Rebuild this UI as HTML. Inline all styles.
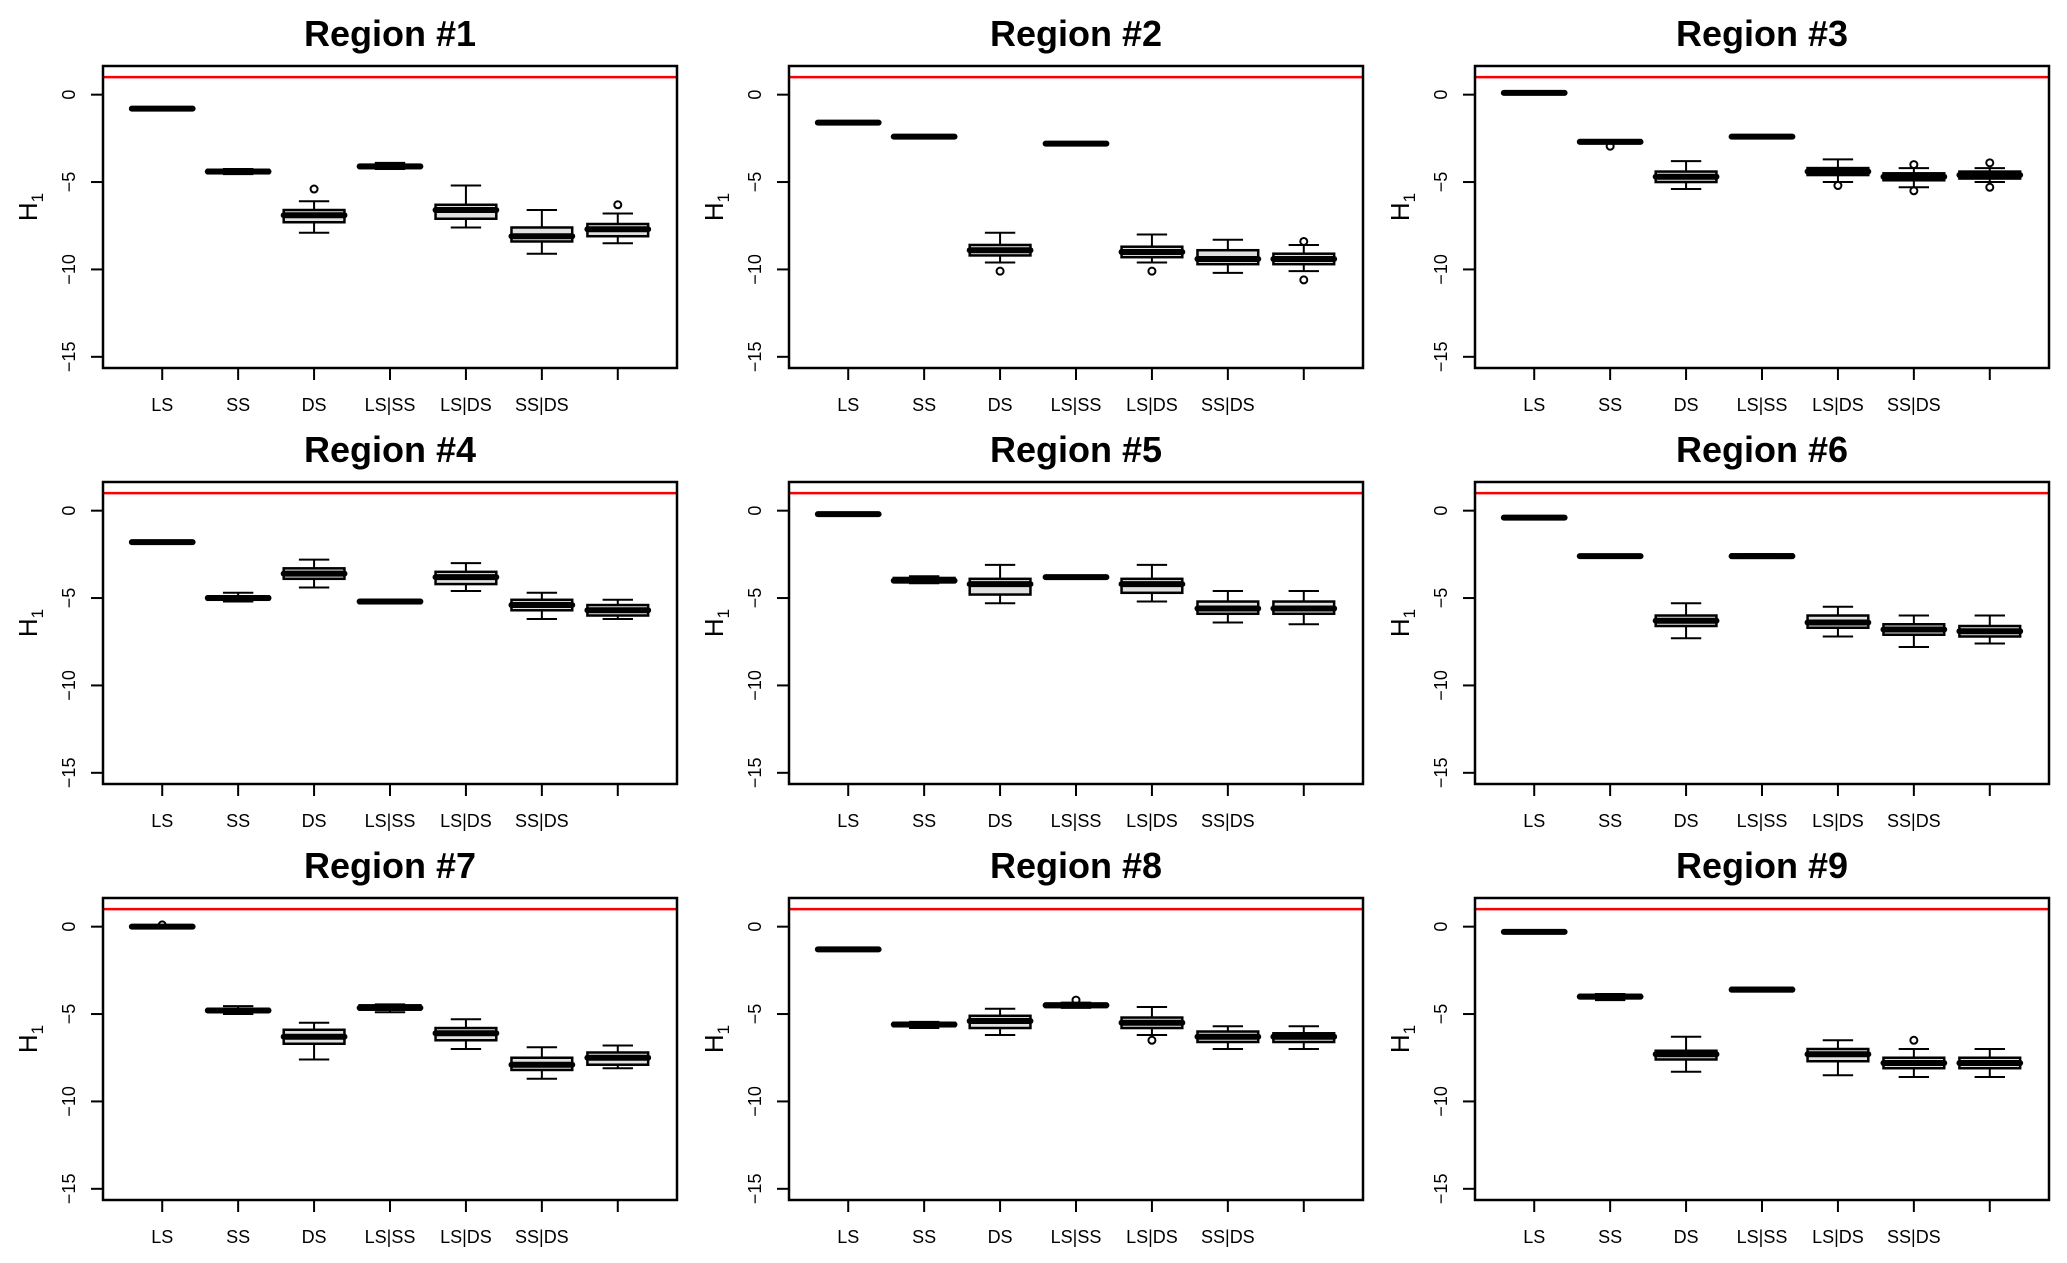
<!DOCTYPE html>
<html><head><meta charset="utf-8"><style>
html,body{margin:0;padding:0;background:#fff;}
svg{display:block;font-family:"Liberation Sans",Arial,sans-serif;}
</style></head><body>
<svg id="chart" width="2067" height="1263" viewBox="0 0 2067 1263" xmlns="http://www.w3.org/2000/svg"></svg>
<script>
const categories = ["LS","SS","DS","LS|SS","LS|DS","SS|DS",""];
const regionTitles = ["Region #1","Region #2","Region #3","Region #4","Region #5","Region #6","Region #7","Region #8","Region #9"];
const yTicks = [0,-5,-10,-15];
const refLine = 1;
// each box: [lowWhisker, q1, median, q3, highWhisker]
const stats1 = [[-0.85,-0.85,-0.8,-0.75,-0.75],[-4.55,-4.5,-4.4,-4.3,-4.25],[-7.9,-7.3,-6.9,-6.6,-6.1],[-4.25,-4.2,-4.1,-4.05,-3.9],[-7.6,-7.1,-6.6,-6.3,-5.2],[-9.1,-8.4,-8.1,-7.6,-6.6],[-8.5,-8.1,-7.7,-7.4,-6.8]];
const out1 = [[],[],[-5.4],[],[],[],[-6.3]];
const stats2 = [[-1.6,-1.6,-1.6,-1.6,-1.6],[-2.45,-2.45,-2.4,-2.35,-2.35],[-9.6,-9.2,-8.9,-8.6,-7.9],[-2.85,-2.85,-2.8,-2.75,-2.75],[-9.6,-9.3,-9.0,-8.7,-8.0],[-10.2,-9.7,-9.4,-8.9,-8.3],[-10.1,-9.7,-9.4,-9.1,-8.6]];
const out2 = [[],[],[-10.1],[],[-10.1],[],[-8.4,-10.6]];
const stats3 = [[0.1,0.1,0.1,0.1,0.1],[-2.75,-2.75,-2.7,-2.6,-2.6],[-5.4,-5.0,-4.7,-4.4,-3.8],[-2.45,-2.45,-2.4,-2.35,-2.35],[-5.0,-4.6,-4.4,-4.2,-3.7],[-5.3,-4.9,-4.7,-4.5,-4.2],[-5.0,-4.8,-4.6,-4.4,-4.2]];
const out3 = [[],[-2.95],[],[],[-5.2],[-4.0,-5.5],[-3.9,-5.3]];
const stats4 = [[-1.8,-1.8,-1.8,-1.8,-1.8],[-5.2,-5.1,-5.0,-4.9,-4.7],[-4.4,-3.9,-3.6,-3.3,-2.8],[-5.3,-5.3,-5.2,-5.15,-5.1],[-4.6,-4.2,-3.8,-3.5,-3.0],[-6.2,-5.7,-5.4,-5.1,-4.7],[-6.2,-6.0,-5.7,-5.4,-5.1]];
const out4 = [[],[],[],[],[],[],[]];
const stats5 = [[-0.2,-0.2,-0.2,-0.2,-0.2],[-4.15,-4.1,-4.0,-3.85,-3.75],[-5.3,-4.8,-4.2,-3.9,-3.1],[-3.85,-3.85,-3.8,-3.75,-3.75],[-5.2,-4.7,-4.2,-3.9,-3.1],[-6.4,-5.9,-5.6,-5.2,-4.6],[-6.5,-5.9,-5.6,-5.2,-4.6]];
const out5 = [[],[],[],[],[],[],[]];
const stats6 = [[-0.4,-0.4,-0.4,-0.4,-0.4],[-2.6,-2.6,-2.6,-2.6,-2.6],[-7.3,-6.6,-6.3,-6.0,-5.3],[-2.7,-2.7,-2.6,-2.5,-2.5],[-7.2,-6.7,-6.4,-6.0,-5.5],[-7.8,-7.1,-6.8,-6.5,-6.0],[-7.6,-7.2,-6.9,-6.6,-6.0]];
const out6 = [[],[],[],[],[],[],[]];
const stats7 = [[0.0,0.0,0.0,0.0,0.0],[-5.0,-4.85,-4.8,-4.7,-4.55],[-7.6,-6.7,-6.3,-5.9,-5.5],[-4.9,-4.75,-4.65,-4.5,-4.45],[-7.0,-6.5,-6.1,-5.8,-5.3],[-8.7,-8.2,-7.9,-7.5,-6.9],[-8.1,-7.9,-7.5,-7.2,-6.8]];
const out7 = [[0.1],[],[],[],[],[],[]];
const stats8 = [[-1.3,-1.3,-1.3,-1.3,-1.3],[-5.8,-5.7,-5.6,-5.5,-5.45],[-6.2,-5.8,-5.4,-5.1,-4.7],[-4.65,-4.6,-4.5,-4.4,-4.35],[-6.2,-5.8,-5.5,-5.2,-4.6],[-7.0,-6.6,-6.3,-6.0,-5.7],[-7.0,-6.6,-6.3,-6.1,-5.7]];
const out8 = [[],[],[],[-4.2],[-6.5],[],[]];
const stats9 = [[-0.3,-0.3,-0.3,-0.3,-0.3],[-4.2,-4.1,-4.0,-3.9,-3.85],[-8.3,-7.6,-7.3,-7.1,-6.3],[-3.7,-3.7,-3.6,-3.5,-3.5],[-8.5,-7.7,-7.3,-7.0,-6.5],[-8.6,-8.1,-7.8,-7.5,-7.0],[-8.6,-8.1,-7.8,-7.5,-7.0]];
const out9 = [[],[],[],[],[],[-6.5],[]];
const allStats = [stats1,stats2,stats3,stats4,stats5,stats6,stats7,stats8,stats9];
const allOut = [out1,out2,out3,out4,out5,out6,out7,out8,out9];

const NS = "http://www.w3.org/2000/svg";
const svg = document.getElementById("chart");
const colLeft = [103, 789, 1475], rowTop = [482-416, 482, 898];
const PW = 574, PH = 302;
const yMin = -15.64, yMax = 1.64, xMin = 0.22, xMax = 7.78;
function mk(tag, attrs, parent){const e=document.createElementNS(NS,tag);for(const k in attrs)e.setAttribute(k,attrs[k]);(parent||svg).appendChild(e);return e;}

for (let p = 0; p < 9; p++) {
  const L = colLeft[p%3], T = rowTop[Math.floor(p/3)];
  const xs = v => L + (v - xMin) / (xMax - xMin) * PW;
  const ys = v => T + (yMax - v) / (yMax - yMin) * PH;
  const g = mk("g", {});
  
  
  const t = mk("text", {x: L + PW/2, y: T - 20, "text-anchor": "middle", "font-size": 36, "font-weight": "bold"}, g);
  
  
  t.textContent = regionTitles[p];
  const rl = mk("line", {x1: L, x2: L+PW, y1: ys(refLine), y2: ys(refLine), stroke: "#ff0000", "stroke-width": 2.5}, g);
  
  
  // y axis
  yTicks.forEach(v => {
    mk("line", {x1: L-12, x2: L, y1: ys(v), y2: ys(v), stroke: "#000", "stroke-width": 2}, g);
    const tl = mk("text", {x: 0, y: 0, transform: `translate(${L-28},${ys(v)}) rotate(-90)`, "text-anchor": "middle", "font-size": 18}, g);
    
    
    tl.textContent = v < 0 ? "\u2212" + (-v) : String(v);
  });
  mk("line", {x1: L-0, x2: L, y1: ys(0), y2: ys(-15), stroke: "#000", "stroke-width": 2}, g);
  const yt = mk("text", {x: 0, y: 0, transform: `translate(${L-66},${T+PH/2-10}) rotate(-90)`, "text-anchor": "middle", "font-size": 26}, g);
  
  
  yt.innerHTML = 'H<tspan font-size="17" dy="6">1</tspan>';
  // x axis
  categories.forEach((c, i) => {
    const x = xs(i+1);
    mk("line", {x1: x, x2: x, y1: T+PH, y2: T+PH+12, stroke: "#000", "stroke-width": 2}, g);
    const xl = mk("text", {x: x, y: T+PH+43, "text-anchor": "middle", "font-size": 18}, g);
    
    
    xl.textContent = c;
  });
  // boxes
  const st = allStats[p], ou = allOut[p];
  st.forEach((s, i) => {
    const cx = xs(i+1), hw = 0.4 * PW / (xMax - xMin), cw = hw/2;
    const bg = mk("g", {}, g);
    
    
    mk("line", {x1: cx, x2: cx, y1: ys(s[0]), y2: ys(s[1]), stroke: "#000", "stroke-width": 2}, bg);
    mk("line", {x1: cx, x2: cx, y1: ys(s[3]), y2: ys(s[4]), stroke: "#000", "stroke-width": 2}, bg);
    mk("line", {x1: cx-cw, x2: cx+cw, y1: ys(s[0]), y2: ys(s[0]), stroke: "#000", "stroke-width": 2}, bg);
    mk("line", {x1: cx-cw, x2: cx+cw, y1: ys(s[4]), y2: ys(s[4]), stroke: "#000", "stroke-width": 2}, bg);
    mk("rect", {x: cx-hw, y: ys(s[3]), width: 2*hw, height: Math.max(0.5, ys(s[1]) - ys(s[3])), fill: "#e0e0e0", stroke: "#000", "stroke-width": 2.5}, bg);
    mk("line", {x1: cx-hw, x2: cx+hw, y1: ys(s[2]), y2: ys(s[2]), stroke: "#000", "stroke-width": 6, "stroke-linecap": "round"}, bg);
    ou[i].forEach(o => {
      const c = mk("circle", {cx: cx, cy: ys(o), r: 3.5, fill: "none", stroke: "#000", "stroke-width": 2}, bg);
      
      
    });
  });
  const fr = mk("rect", {x: L, y: T, width: PW, height: PH, fill: "none", stroke: "#000", "stroke-width": 2.5}, g);
  
  
}
</script>
</body></html>
